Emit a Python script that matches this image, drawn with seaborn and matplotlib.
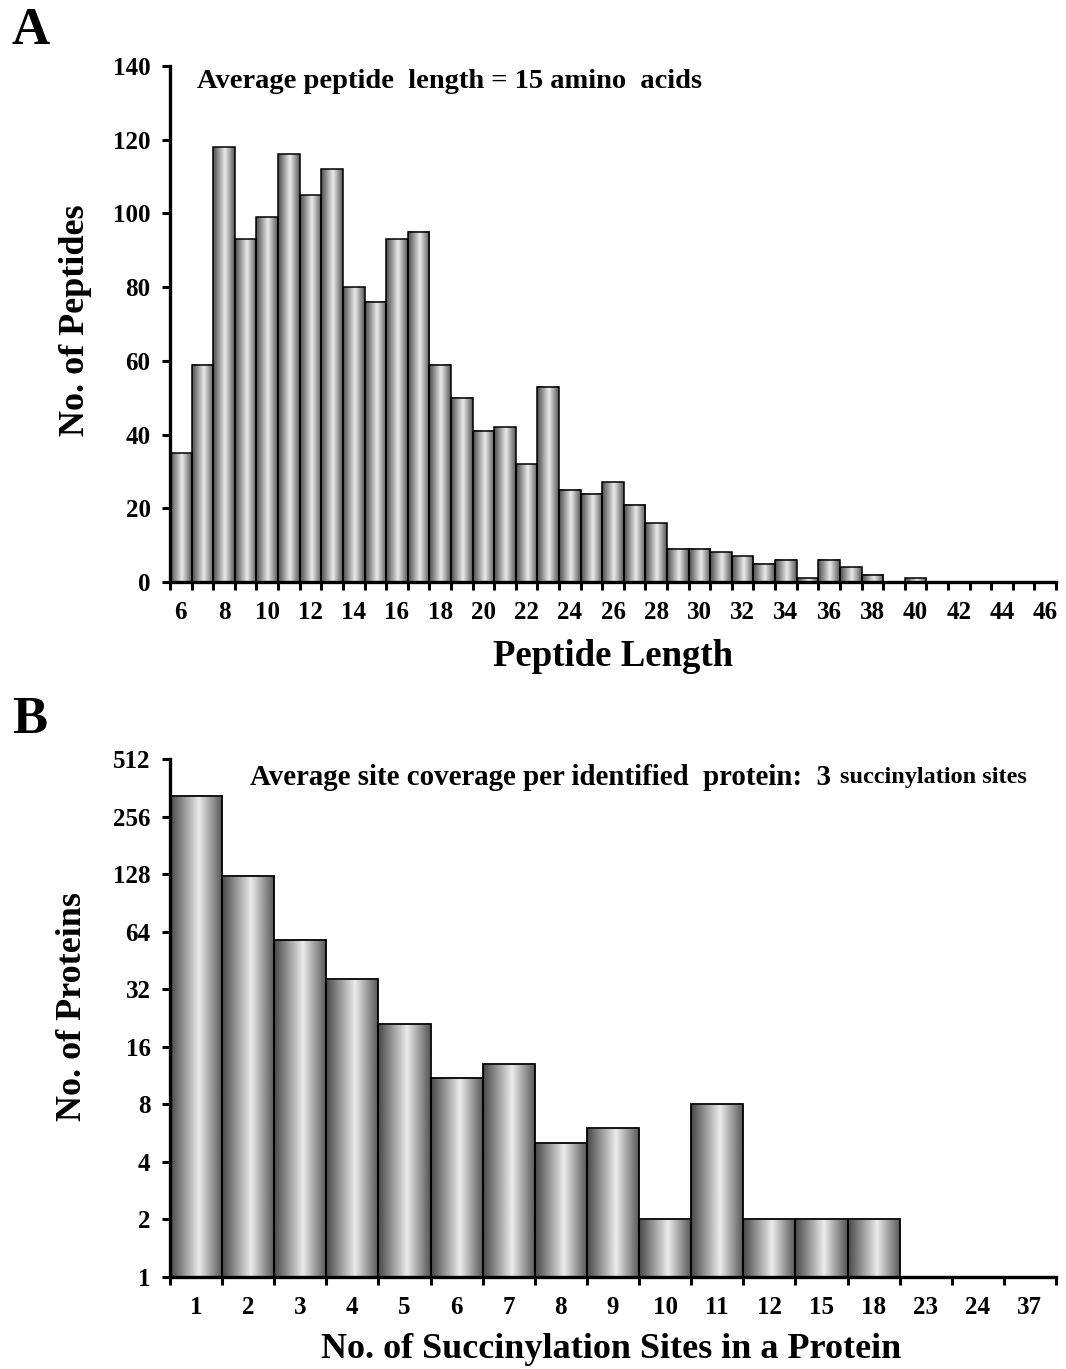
import numpy as np
import pandas as pd
import matplotlib
matplotlib.use("Agg")
import matplotlib.pyplot as plt
import seaborn as sns
from matplotlib.colors import LinearSegmentedColormap
from matplotlib.ticker import FixedLocator

# panel A data
lengths = [str(i) for i in range(6, 47)]
peptides = [35, 59, 118, 93, 99, 116, 105, 112, 80, 76,
            93, 95, 59, 50, 41, 42, 32, 53, 25, 24,
            27, 21, 16, 9, 9, 8, 7, 5, 6, 1,
            6, 4, 2, 0, 1, 0, 0, 0, 0, 0, 0]

# panel B data
sites = ["1", "2", "3", "4", "5", "6", "7", "8", "9", "10", "11", "12", "15", "18", "23", "24", "37"]
proteins = [326, 125, 58, 36, 21, 11, 13, 5, 6, 2, 8, 2, 2, 2, 1, 1, 1]
log_ticks = [1, 2, 4, 8, 16, 32, 64, 128, 256, 512]

sns.set_style("ticks")
plt.rcParams['font.family'] = ['Liberation Serif', 'DejaVu Serif']
plt.rcParams['font.weight'] = 'bold'
plt.rcParams['axes.labelweight'] = 'bold'
for k in ['text.color', 'axes.labelcolor', 'xtick.color', 'ytick.color', 'axes.edgecolor']:
    plt.rcParams[k] = 'black'

shade = LinearSegmentedColormap.from_list("shade", [(0, "#4a4a4a"), (0.55, "#ececec"), (1, "#555555")])
grad = np.linspace(0, 1, 128).reshape(1, -1)


def shade_bars(ax, bottom):
    xl = ax.get_xlim()
    yl = ax.get_ylim()
    for p in ax.patches:
        x0 = p.get_x()
        w = p.get_width()
        h = p.get_height()
        p.set_facecolor('none')
        p.set_zorder(2)
        if h <= bottom:
            continue
        ax.imshow(grad, cmap=shade, aspect='auto', extent=(x0, x0 + w, bottom, h),
                  zorder=1, interpolation='bicubic')
    ax.set_xlim(xl)
    ax.set_ylim(yl)


def style_axis(ax):
    sns.despine(ax=ax)
    for s in ['left', 'bottom']:
        ax.spines[s].set_linewidth(2.4)
        ax.spines[s].set_zorder(3)
    ax.tick_params(axis='y', which='major', length=6, width=2.2, labelsize=18, pad=8, direction='out')
    ax.tick_params(axis='x', which='major', length=0, labelsize=18, pad=14)
    ax.tick_params(axis='x', which='minor', length=6, width=2.2, direction='out')


fig = plt.figure(figsize=(10.66, 13.69), dpi=100)

# ---- A
ax1 = fig.add_axes([0.1595, 0.5749, 0.8311, 0.3769])
df1 = pd.DataFrame({"Length": lengths, "Count": peptides})
sns.barplot(data=df1, x="Length", y="Count", ax=ax1, color="gray", width=1.0,
            edgecolor="black", linewidth=1.1)
ax1.set_xlim(-0.5, len(lengths) - 0.5)
ax1.set_ylim(0, 140)
ax1.set_yticks(range(0, 141, 20))
ax1.set_xticks(range(0, len(lengths), 2))
ax1.set_xticklabels(lengths[::2])
ax1.xaxis.set_minor_locator(FixedLocator(np.arange(-0.5, len(lengths), 1)))
shade_bars(ax1, 0)
style_axis(ax1)
ax1.set_xlabel("Peptide Length", fontsize=26.5)
ax1.set_ylabel("No. of Peptides", fontsize=26)
ax1.xaxis.set_label_coords(0.5, -0.110)
ax1.yaxis.set_label_coords(-0.088, 0.508)
ax1.text(0.03, 0.97, "Average peptide  length = 15 amino  acids", transform=ax1.transAxes,
         fontsize=20.5, fontweight='bold', va='center', ha='left')

# ---- B
ax2 = fig.add_axes([0.1595, 0.0672, 0.8311, 0.3784])
df2 = pd.DataFrame({"Sites": sites, "Proteins": proteins})
sns.barplot(data=df2, x="Sites", y="Proteins", ax=ax2, color="gray", width=1.0,
            edgecolor="black", linewidth=1.3)
ax2.set_yscale('log', base=2)
ax2.set_xlim(-0.5, len(sites) - 0.5)
ax2.set_ylim(1, 512)
ax2.yaxis.set_major_locator(FixedLocator(log_ticks))
ax2.set_yticklabels([str(t) for t in log_ticks])
ax2.yaxis.set_minor_locator(FixedLocator([]))
ax2.xaxis.set_minor_locator(FixedLocator(np.arange(-0.5, len(sites), 1)))
shade_bars(ax2, 1)
style_axis(ax2)
ax2.set_xlabel("No. of Succinylation Sites in a Protein", fontsize=26)
ax2.set_ylabel("No. of Proteins", fontsize=26)
ax2.xaxis.set_label_coords(0.498, -0.108)
ax2.yaxis.set_label_coords(-0.092, 0.523)
t = ax2.text(0.09, 0.965, "Average site coverage per identified  protein:  3", transform=ax2.transAxes,
             fontsize=20.8, fontweight='bold', va='center', ha='left')
fig.canvas.draw()
bb = t.get_window_extent().transformed(ax2.transAxes.inverted())
ax2.text(bb.x1 + 0.01, 0.965, "succinylation sites", transform=ax2.transAxes,
         fontsize=17.5, fontweight='bold', va='center', ha='left')

fig.text(0.011, 0.977, "A", fontsize=38, fontweight='bold', va='center', ha='left')
fig.text(0.011, 0.474, "B", fontsize=38, fontweight='bold', va='center', ha='left')

fig.savefig("out.png", dpi=100)
